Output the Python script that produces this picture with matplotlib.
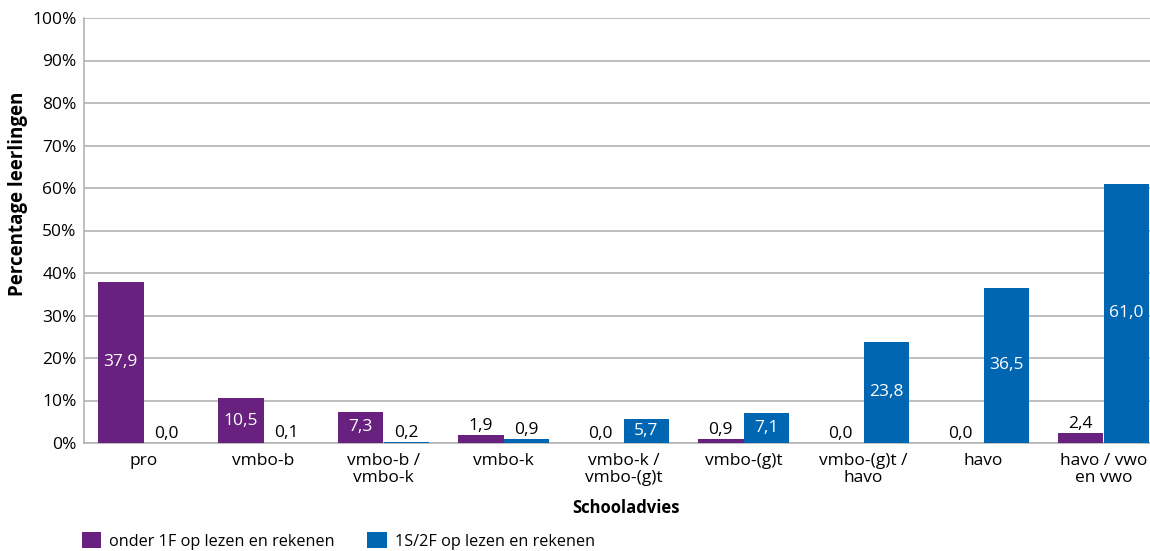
import matplotlib
matplotlib.use("Agg")
import matplotlib.pyplot as plt
import numpy as np

categories = ["pro", "vmbo-b", "vmbo-b /\nvmbo-k", "vmbo-k", "vmbo-k /\nvmbo-(g)t",
              "vmbo-(g)t", "vmbo-(g)t /\nhavo", "havo", "havo / vwo\nen vwo"]
onder_1f = [37.9, 10.5, 7.3, 1.9, 0.0, 0.9, 0.0, 0.0, 2.4]
s1_2f = [0.0, 0.1, 0.2, 0.9, 5.7, 7.1, 23.8, 36.5, 61.0]
series_names = ["onder 1F op lezen en rekenen", "1S/2F op lezen en rekenen"]
colors = ["#69217f", "#0066b2"]

plt.rcParams['font.family'] = ['Open Sans', 'DejaVu Sans']

W, H = 1150, 551
fig = plt.figure(figsize=(W / 100, H / 100), dpi=100)
left, right, top, bottom = 83.5, 1163.5, 18, 443
ax = fig.add_axes([left / W, 1 - bottom / H, (right - left) / W, (bottom - top) / H])

x = np.arange(len(categories))
w = 0.383
bars = []
for i, (vals, c) in enumerate(zip([onder_1f, s1_2f], colors)):
    pos = x + (i - 0.5) * w
    b = ax.bar(pos, vals, width=w, color=c, label=series_names[i], zorder=3)
    bars.append(b)
    for xi, v in zip(pos, vals):
        s = f"{v:.1f}".replace(".", ",")
        if v >= 5:
            ax.text(xi, v / 2, s, ha="center", va="center", color="white", fontsize=12.5, zorder=4)
        else:
            ax.text(xi, v + 0.3, s, ha="center", va="bottom", color="black", fontsize=12.5, zorder=4)

ax.set_xlim(-0.5, len(categories) - 0.5)
ax.set_ylim(0, 100)
ax.set_yticks(np.arange(0, 101, 10))
ax.set_yticklabels([f"{t}%" for t in range(0, 101, 10)], fontsize=12.5)
ax.set_xticks(x)
ax.set_xticklabels(categories, fontsize=12.5, linespacing=1.12)
ax.tick_params(axis="y", length=0, pad=5)
ax.tick_params(axis="x", length=0, pad=7)
ax.grid(axis="y", color="#b3b3b3", linewidth=1.2, zorder=0)
for sp in ["top", "right"]:
    ax.spines[sp].set_visible(False)
ax.spines["left"].set_color("#b3b3b3")
ax.spines["bottom"].set_color("#b3b3b3")
ax.spines["left"].set_linewidth(1.2)
ax.spines["bottom"].set_linewidth(1.2)

ax.set_ylabel("Percentage leerlingen", fontsize=13.5, fontweight="bold", labelpad=6)
ax.yaxis.set_label_coords(-55 / (right - left), (443 - 194) / (bottom - top))
ax.set_xlabel("Schooladvies", fontsize=12, fontweight="bold")
ax.xaxis.set_label_coords((626 - left) / (right - left), -(508 - bottom) / (bottom - top))
ax.xaxis.label.set_va("center")

fig.legend(handles=bars, labels=series_names, loc="center left",
           bbox_to_anchor=(67 / W, 1 - 541 / H), ncol=2, frameon=False, fontsize=11.7,
           handlelength=1.2, handleheight=1.1, handletextpad=0.5, columnspacing=2.0)

fig.savefig("out.png", dpi=100)
